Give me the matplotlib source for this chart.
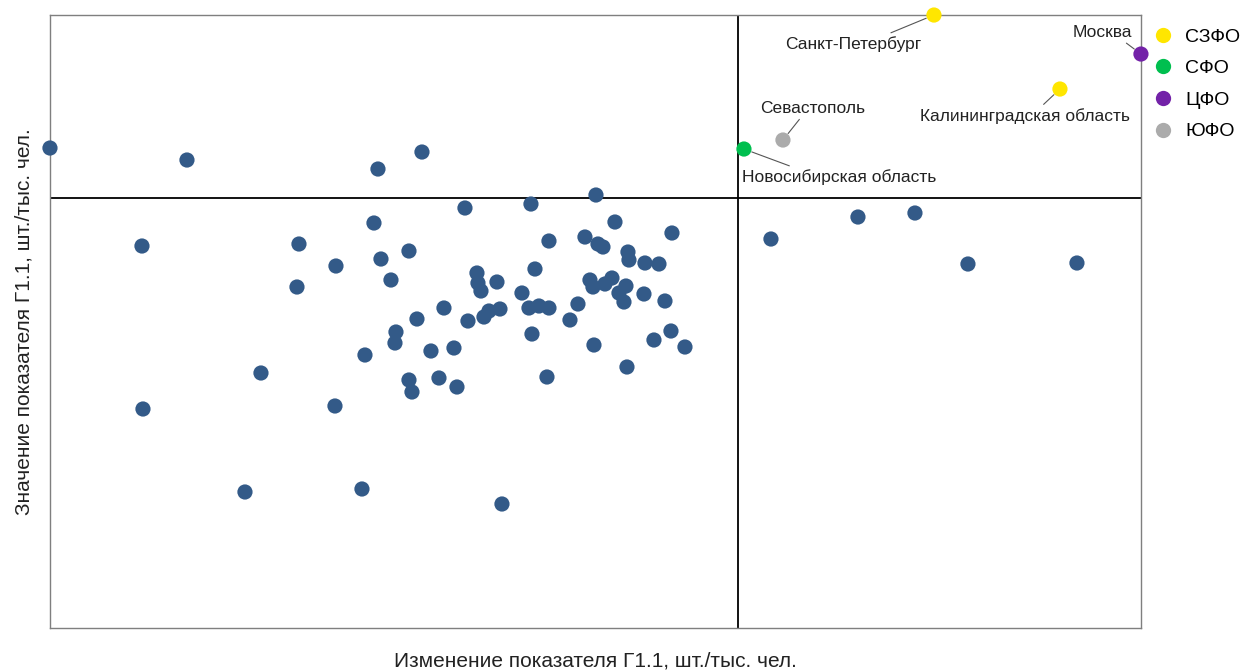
import matplotlib.pyplot as plt
from matplotlib.lines import Line2D

plt.rcParams['font.family'] = ['Liberation Sans', 'DejaVu Sans']

# Regions (no tick values in the source, units are relative)
other_x = [-68.8, -55.1, -36.0, -31.6, -59.6, -43.9, -44.1, -40.2, -36.4, -35.7,
           -32.9, -34.7, -27.3, -20.7, -14.2, -12.3, -6.6, -18.9, -15.3, -14.0,
           -13.5, -11.0, -10.9, -9.3, -7.9, -20.3, -26.1, -26.0, -25.7, -24.1,
           -14.8, -14.5, -13.3, -12.6, -11.2, -11.9, -11.4, -9.4, -7.3, -21.6,
           -20.9, -19.9, -18.9, -16.0, -16.8, -29.4, -32.1, -27.0, -25.4, -24.9,
           -23.8, -34.2, -34.3, -30.7, -28.4, -37.3, -32.9, -32.6, -29.9, -28.1,
           -20.6, -6.7, -8.4, -5.3, -14.4, -11.1, -19.1, -47.7, -59.5, -40.3,
           -49.3, -37.6, -23.6, 3.3, 12.0, 17.7, 23.0, 33.9]
other_y = [48.0, 46.8, 45.9, 47.6, 38.2, 38.4, 34.1, 36.2, 40.5, 36.9,
           37.7, 34.8, 42.0, 42.4, 43.3, 40.6, 39.5, 38.7, 39.1, 38.4,
           38.1, 37.6, 36.8, 36.5, 36.4, 35.9, 35.5, 34.5, 33.7, 34.6,
           34.8, 34.1, 34.4, 35.0, 34.2, 33.5, 32.6, 33.4, 32.7, 33.5,
           32.0, 32.2, 32.0, 32.4, 30.8, 32.0, 30.9, 30.7, 31.1, 31.7,
           31.9, 29.6, 28.5, 27.7, 28.0, 27.3, 24.8, 23.6, 25.0, 24.1,
           29.4, 29.7, 28.8, 28.1, 28.3, 26.1, 25.1, 25.5, 21.9, 22.2,
           13.6, 13.9, 12.4, 38.9, 41.1, 41.5, 36.4, 36.5]

names = ["Санкт-Петербург", "Москва", "Калининградская область",
         "Севастополь", "Новосибирская область"]
names_x = [19.6, 40.3, 32.2, 4.5, 0.6]
names_y = [61.3, 57.4, 53.9, 48.8, 47.9]
names_fo = ["СЗФО", "ЦФО", "СЗФО", "ЮФО", "СФО"]

fo_order = ["СЗФО", "СФО", "ЦФО", "ЮФО"]
fo_colors = {"СЗФО": "#FFE600", "СФО": "#00BF4F", "ЦФО": "#7322A8", "ЮФО": "#ABABAB"}

x_mid = 0.0
y_mid = 43.0

# label placement: text centre and where the leader leaves the text box
label_pos = [(11.5, 58.4), (36.4, 59.6), (28.7, 51.2), (7.5, 52.0), (10.1, 45.1)]
label_rel = [(0.72, 1.0), (0.83, 0.0), (0.57, 1.0), (0.4, 0.0), (0.29, 1.0)]

fig = plt.figure(figsize=(12.43, 6.71), dpi=100)
ax = fig.add_axes([0.0402, 0.0641, 0.8777, 0.9135])

ax.axvline(x_mid, color="black", lw=1.3, zorder=1)
ax.axhline(y_mid, color="black", lw=1.3, zorder=1)

ax.scatter(other_x, other_y, s=120, color="#335A88", edgecolors="none",
           zorder=3, clip_on=False)
ax.scatter(names_x, names_y, s=120, c=[fo_colors[f] for f in names_fo],
           edgecolors="none", zorder=3, clip_on=False)

for name, px, py, (tx, ty), rel in zip(names, names_x, names_y, label_pos, label_rel):
    ax.annotate(name, xy=(px, py), xytext=(tx, ty), ha="center", va="center",
                fontsize=12.5, color="#222222",
                arrowprops=dict(arrowstyle="-", color="#555555", lw=0.8,
                                relpos=rel, shrinkA=1, shrinkB=6))

ax.set_xlim(-68.8, 40.3)
ax.set_ylim(0, 61.3)
ax.set_xticks([])
ax.set_yticks([])
for sp in ax.spines.values():
    sp.set_color("#7f7f7f")
    sp.set_linewidth(1.0)

ax.set_xlabel("Изменение показателя Г1.1, шт./тыс. чел.", fontsize=15,
              color="#222222", labelpad=17)
ax.set_ylabel("Значение показателя Г1.1, шт./тыс. чел.", fontsize=15,
              color="#222222", labelpad=12)

handles = [Line2D([], [], marker="o", ls="none", markersize=11,
                  markerfacecolor=fo_colors[f], markeredgecolor="none")
           for f in fo_order]
ax.legend(handles, fo_order, loc="upper left", bbox_to_anchor=(1.0095, 0.979),
          frameon=False, fontsize=14, handletextpad=0.53, labelspacing=0.72,
          borderaxespad=0, borderpad=0, handlelength=1.2)

fig.savefig("out.png", dpi=100)
